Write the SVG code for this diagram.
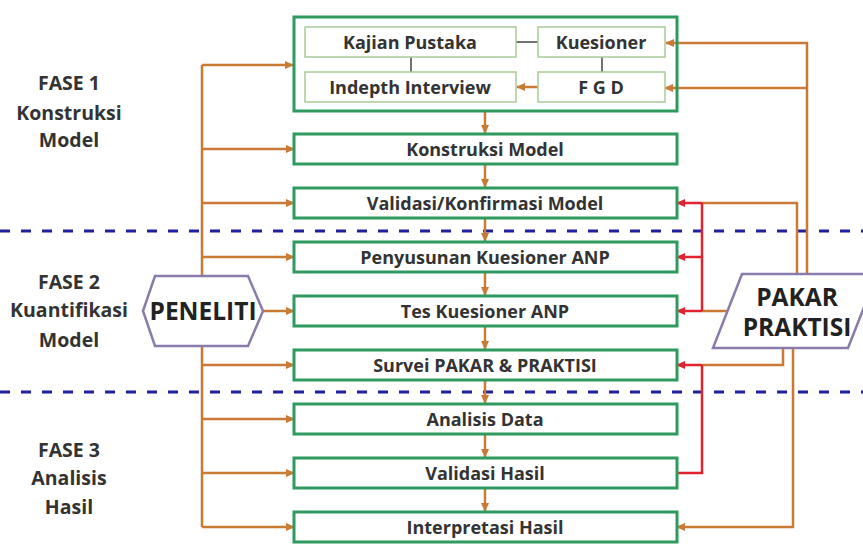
<svg xmlns="http://www.w3.org/2000/svg" width="863" height="545" viewBox="0 0 863 545">
<style>
.box{fill:#fff;stroke:#2f9a5f;stroke-width:3}
.obox{fill:none;stroke:#2f9a5f;stroke-width:3}
.ibox{fill:#fff;stroke:#a8cc98;stroke-width:1.5}
.t{font-family:"Open Sans","Liberation Sans",sans-serif;font-weight:700;font-size:18px;fill:#333;text-anchor:middle}
.ph{font-family:"Open Sans","Liberation Sans",sans-serif;font-weight:700;font-size:19.5px;fill:#333;text-anchor:middle}
.big{font-family:"Open Sans","Liberation Sans",sans-serif;font-weight:700;font-size:24.5px;fill:#222;text-anchor:middle}
.or{fill:none;stroke:#c97a35;stroke-width:2.5}
.rd{fill:none;stroke:#e2222e;stroke-width:2.5}
.gy{fill:none;stroke:#444;stroke-width:1.5}
.dash{stroke:#1f1fa0;stroke-width:3;stroke-dasharray:10 11}
.shape{fill:#fff;stroke:#8a7caa;stroke-width:2.5}
</style>
<defs>
<marker id="ao" markerUnits="userSpaceOnUse" markerWidth="9" markerHeight="8" refX="8" refY="4" orient="auto"><path d="M0,0 L9,4 L0,8 Z" fill="#c97a35"/></marker>
<marker id="ar" markerUnits="userSpaceOnUse" markerWidth="9" markerHeight="8" refX="8" refY="4" orient="auto"><path d="M0,0 L9,4 L0,8 Z" fill="#e2222e"/></marker>
</defs>
<rect width="863" height="545" fill="#fff"/>
<g id="dividers">
<line class="dash" x1="0" y1="231" x2="863" y2="231"/>
<line class="dash" x1="0" y1="392" x2="863" y2="392"/>
</g>
<g id="phase1"><text class="ph" x="69" y="90">FASE 1</text><text class="ph" x="69" y="120">Konstruksi</text><text class="ph" x="69" y="147">Model</text></g>
<g id="phase2"><text class="ph" x="69" y="289">FASE 2</text><text class="ph" x="69" y="317">Kuantifikasi</text><text class="ph" x="69" y="347">Model</text></g>
<g id="phase3"><text class="ph" x="69" y="457">FASE 3</text><text class="ph" x="69" y="485">Analisis</text><text class="ph" x="69" y="514">Hasil</text></g>
<g id="connectors">
<path class="or" d="M202,65 V276 M202,346 V527"/>
<path class="or" d="M202,65 H293" marker-end="url(#ao)"/>
<path class="or" d="M202,149 H294" marker-end="url(#ao)"/>
<path class="or" d="M202,203 H294" marker-end="url(#ao)"/>
<path class="or" d="M202,257 H294" marker-end="url(#ao)"/>
<path class="or" d="M263,311 H294" marker-end="url(#ao)"/>
<path class="or" d="M202,365 H294" marker-end="url(#ao)"/>
<path class="or" d="M202,419 H294" marker-end="url(#ao)"/>
<path class="or" d="M202,473 H294" marker-end="url(#ao)"/>
<path class="or" d="M202,527 H294" marker-end="url(#ao)"/>
<path class="or" d="M485,111 V133" marker-end="url(#ao)"/>
<path class="or" d="M485,165 V187" marker-end="url(#ao)"/>
<path class="or" d="M485,219 V241" marker-end="url(#ao)"/>
<path class="or" d="M485,273 V295" marker-end="url(#ao)"/>
<path class="or" d="M485,327 V349" marker-end="url(#ao)"/>
<path class="or" d="M485,381 V403" marker-end="url(#ao)"/>
<path class="or" d="M485,435 V457" marker-end="url(#ao)"/>
<path class="or" d="M485,489 V511" marker-end="url(#ao)"/>
<path class="gy" d="M516,42 H538 M411,57 V72 M602,57 V72"/>
<path class="or" d="M538,87 H517" marker-end="url(#ao)"/>
<path class="or" d="M807,274 V43 H666" marker-end="url(#ao)"/>
<path class="or" d="M807,88 H665" marker-end="url(#ao)"/>
<path class="or" d="M797,274 V203 H702"/>
<path class="or" d="M727,311 H702"/>
<path class="rd" d="M702,203 V311"/>
<path class="rd" d="M702,203 H677" marker-end="url(#ar)"/>
<path class="rd" d="M702,257 H677" marker-end="url(#ar)"/>
<path class="rd" d="M702,311 H677" marker-end="url(#ar)"/>
<path class="or" d="M783,348 V365 H702"/>
<path class="rd" d="M702,365 H677" marker-end="url(#ar)"/>
<path class="rd" d="M702,365 V473 H676"/>
<path class="or" d="M793,348 V527 H677" marker-end="url(#ao)"/>
</g>
<g id="literature">
<rect class="obox" x="294" y="17" width="383" height="94"/>
<g id="kajian"><rect class="ibox" x="305" y="27" width="211" height="30"/><text class="t" x="410" y="48.5">Kajian Pustaka</text></g>
<g id="kuesioner"><rect class="ibox" x="538" y="27" width="127" height="30"/><text class="t" x="601" y="48.5">Kuesioner</text></g>
<g id="indepth"><rect class="ibox" x="305" y="72" width="211" height="30"/><text class="t" x="410" y="93.5">Indepth Interview</text></g>
<g id="fgd"><rect class="ibox" x="538" y="72" width="127" height="30"/><text class="t" x="601" y="93.5">F G D</text></g>
</g>
<g id="konstruksi"><rect class="box" x="294" y="134" width="383" height="30"/><text class="t" x="485" y="155.5">Konstruksi Model</text></g>
<g id="validasi-model"><rect class="box" x="294" y="188" width="383" height="30"/><text class="t" x="485" y="209.5">Validasi/Konfirmasi Model</text></g>
<g id="penyusunan"><rect class="box" x="294" y="242" width="383" height="30"/><text class="t" x="485" y="263.5">Penyusunan Kuesioner ANP</text></g>
<g id="tes"><rect class="box" x="294" y="296" width="383" height="30"/><text class="t" x="485" y="317.5">Tes Kuesioner ANP</text></g>
<g id="survei"><rect class="box" x="294" y="350" width="383" height="30"/><text class="t" x="485" y="371.5">Survei PAKAR &amp; PRAKTISI</text></g>
<g id="analisis"><rect class="box" x="294" y="404" width="383" height="30"/><text class="t" x="485" y="425.5">Analisis Data</text></g>
<g id="validasi-hasil"><rect class="box" x="294" y="458" width="383" height="30"/><text class="t" x="485" y="479.5">Validasi Hasil</text></g>
<g id="interpretasi"><rect class="box" x="294" y="512" width="383" height="30"/><text class="t" x="485" y="533.5">Interpretasi Hasil</text></g>
<g id="peneliti"><polygon class="shape" points="143,311 155,276 248,276 263,311 248,346 155,346"/><text class="big" x="203" y="320">PENELITI</text></g>
<g id="pakar"><polygon class="shape" points="742,274 877,274 848,348 713,348"/><text class="big" x="797" y="306">PAKAR</text><text class="big" x="797" y="336">PRAKTISI</text></g>
</svg>
